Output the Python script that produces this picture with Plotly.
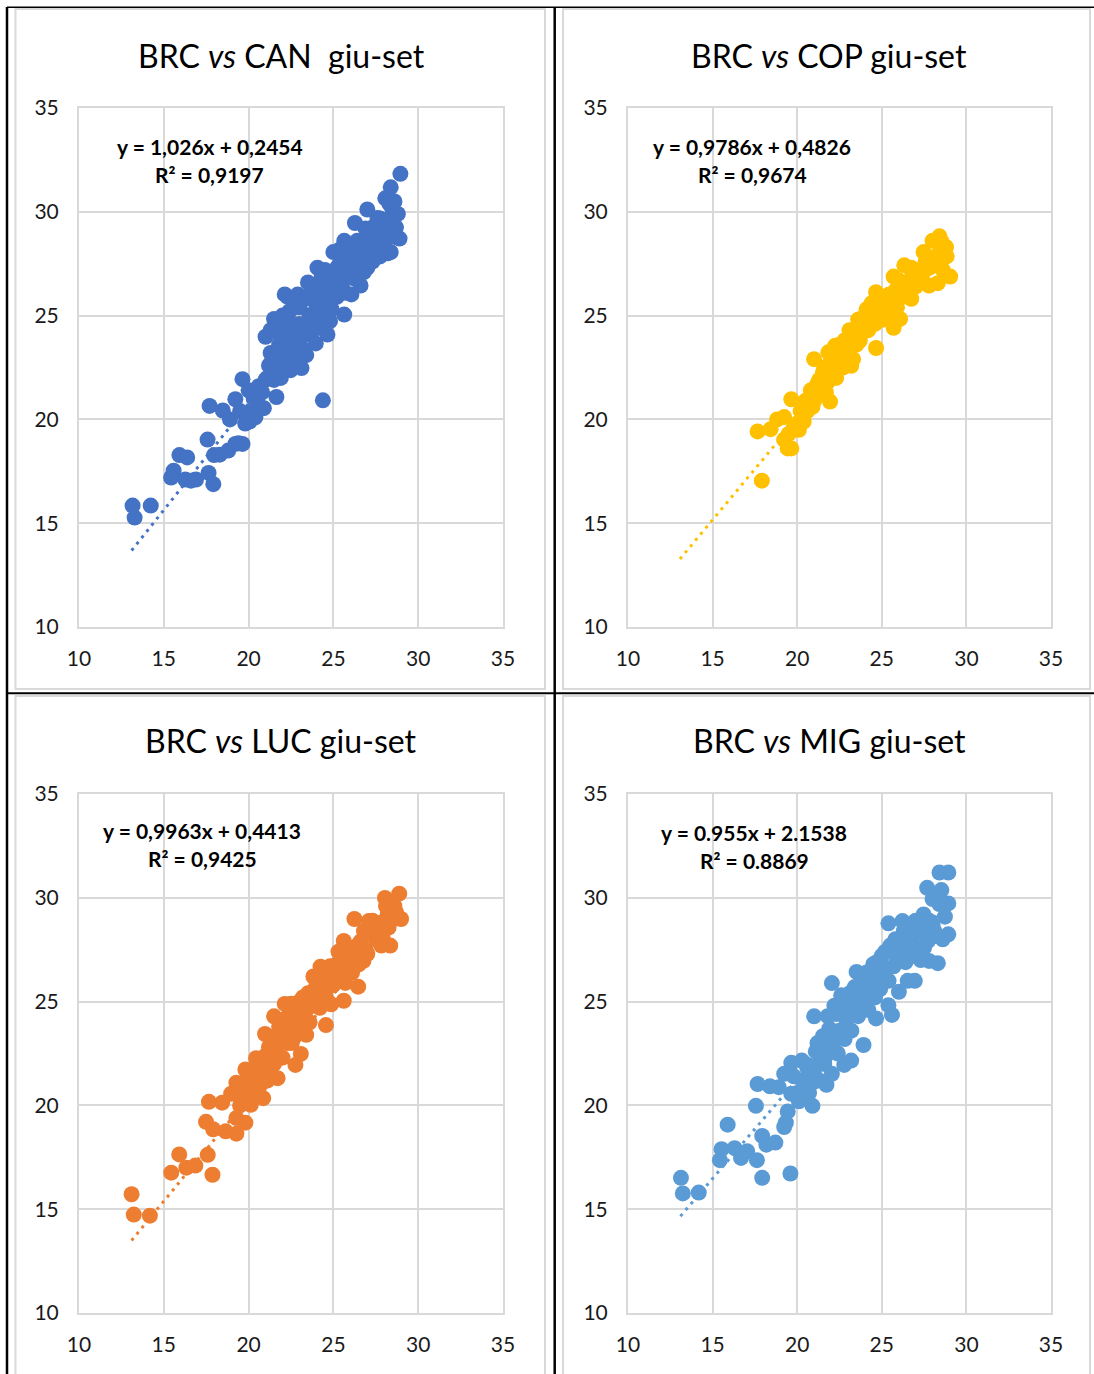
import plotly.graph_objects as go

# ---------------- data ----------------
titles = ["BRC <i>vs</i> CAN\u00a0 giu-set", "BRC <i>vs</i> COP giu-set",
          "BRC <i>vs</i> LUC giu-set", "BRC <i>vs</i> MIG giu-set"]
equations = ["y = 1,026x + 0,2454", "y = 0,9786x + 0,4826",
             "y = 0,9963x + 0,4413", "y = 0.955x + 2.1538"]
r2_texts = ["R² = 0,9197", "R² = 0,9674", "R² = 0,9425", "R² = 0.8869"]
slopes = [1.026, 0.9786, 0.9963, 0.955]
intercepts = [0.2454, 0.4826, 0.4413, 2.1538]
trend_x_start = [13.1, 13.07, 13.1, 13.1]
trend_x_end = [29.0, 29.0, 29.0, 29.0]

can_x = [13.16, 13.28, 14.23, 15.43, 15.58, 15.92, 16.38, 16.27, 16.6, 16.9, 17.64, 17.92, 17.58, 17.7,
         17.96, 18.3, 18.48, 18.8, 19.22, 19.64, 19.4, 19.22, 19.64, 18.9, 19.5, 19.8, 20.06, 20.17,
         20.4, 20.6, 20.9, 20.3, 20.0, 20.6, 21.0, 21.64, 24.38,
         21.0, 21.5, 21.2, 21.3, 21.6, 21.8, 21.9, 22.0, 22.13, 22.2, 22.4, 22.5, 22.48, 22.7, 22.8,
         22.9, 23.0, 23.12, 23.2, 23.3, 23.5, 23.6, 23.8, 23.96, 24.0, 24.06, 24.2, 24.4, 24.5, 24.65,
         24.8, 24.8,
         25.0, 25.0, 25.2, 25.3, 25.5, 25.64, 25.64, 25.8, 26.0, 26.06, 26.2, 26.3, 26.27, 26.6, 26.7,
         26.8, 27.0, 27.0, 27.2, 27.4, 27.5, 27.75, 27.75, 27.9, 28.06, 28.06, 28.2, 28.38, 28.38,
         28.48, 28.5, 28.69, 28.9, 28.95, 28.6,
         20.8, 21.1, 21.4, 21.5, 21.7, 21.9, 22.1, 22.3, 22.6, 22.6, 22.9, 23.0, 23.1, 23.3, 23.4,
         23.6, 23.7, 23.9, 24.1, 24.2, 24.3, 24.4, 24.6, 24.7, 24.9, 25.1, 25.2, 25.4, 25.5, 25.7,
         25.9, 26.0, 26.2, 26.4, 26.5, 26.8, 26.9, 27.1, 27.3, 27.6, 27.7, 28.0, 28.2, 28.3, 28.6,
         28.8, 22.0, 22.3, 23.5, 21.3]
can_y = [15.85, 15.27, 15.85, 17.2, 17.53, 18.28, 18.17, 17.1, 17.05, 17.1, 17.42, 16.88, 19.03, 20.65,
         18.28, 18.3, 20.43, 18.5, 18.82, 18.82, 18.85, 20.97, 21.94, 20.0, 20.4, 19.8, 19.9, 20.32,
         20.1, 20.7, 20.54, 21.0, 21.4, 21.6, 21.9, 21.08, 20.92,
         23.98, 24.84, 22.6, 23.2, 22.3, 23.6, 22.0, 24.3, 26.02, 23.0, 25.2, 24.0, 22.37, 23.4, 25.5,
         26.02, 24.6, 22.47, 23.4, 25.8, 24.1, 25.0, 26.2, 23.66, 25.4, 27.31, 26.6, 24.9, 27.2, 24.09,
         24.73, 26.0,
         28.06, 26.8, 25.9, 27.4, 26.4, 25.05, 28.6, 27.8, 26.9, 26.02, 28.1, 27.3, 29.46, 26.45, 27.8,
         28.5, 27.31, 30.11, 28.7, 29.3, 28.2, 29.68, 27.85, 29.0, 30.65, 29.03, 28.0, 31.18, 28.06,
         30.11, 29.6, 29.25, 28.71, 31.83, 30.5,
         21.3, 22.0, 22.9, 21.9, 23.0, 24.0, 22.7, 23.6, 24.6, 23.0, 24.0, 25.4, 23.2, 24.4, 23.1,
         26.0, 24.3, 25.0, 24.4, 25.8, 27.0, 26.2, 25.5, 26.8, 25.3, 27.2, 26.3, 28.2, 27.0, 26.1,
         28.3, 27.4, 26.8, 28.6, 27.6, 27.1, 29.2, 28.0, 27.6, 29.7, 28.6, 28.3, 29.6, 30.4, 28.8,
         29.9, 25.0, 25.9, 26.6, 24.3]

cop_x = [17.66, 17.91, 18.43, 18.81, 19.23, 19.65, 19.23, 19.44, 19.65, 20.38, 21.0, 21.94, 21.2, 20.69,
         21.52, 22.25, 21.84, 23.19, 23.09, 23.72, 24.66, 24.24, 24.66, 25.7, 26.08, 25.7, 26.33, 26.74,
         26.74, 25.91, 27.47, 28.0, 28.41, 28.83, 29.04, 28.31, 27.79, 27.68, 27.27,
         20.2, 20.5, 20.8, 21.0, 21.3, 21.6, 21.8, 22.0, 22.2, 22.4, 22.6, 22.8, 23.0, 23.2, 23.5, 23.8,
         24.0, 24.2, 24.5, 24.8, 25.0, 25.2, 25.5, 25.8, 26.2, 26.5, 26.9, 27.2, 27.6, 28.0, 28.4, 28.6,
         20.0, 20.3, 20.6, 20.9, 21.1, 21.4, 21.5, 21.7, 21.9, 22.1, 22.3, 22.5, 22.7, 22.9, 23.1, 23.3,
         23.4, 23.6, 23.7, 23.9, 24.1, 24.3, 24.4, 24.6, 24.7, 24.9, 25.1, 25.3, 25.4, 25.6, 25.9, 26.0,
         26.3, 26.6, 26.8, 27.0, 27.4, 27.8, 28.2, 28.6, 28.8, 19.5, 19.8, 20.1]
cop_y = [19.42, 17.05, 19.53, 20.0, 20.11, 20.97, 19.03, 18.6, 18.6, 19.89, 22.9, 20.86, 21.72, 20.54,
         22.26, 23.55, 23.23, 22.58, 24.3, 24.84, 23.44, 25.38, 26.13, 24.41, 24.84, 26.88, 27.42, 27.31,
         25.81, 26.02, 28.06, 28.6, 28.82, 27.85, 26.88, 26.56, 26.45, 27.31, 26.88,
         20.4, 20.9, 21.4, 20.9, 21.9, 22.5, 21.8, 22.9, 22.3, 23.4, 22.9, 23.8, 23.2, 24.0, 23.6, 24.4,
         24.9, 24.3, 25.1, 25.5, 24.8, 25.8, 25.3, 26.2, 25.9, 26.5, 26.7, 27.2, 27.6, 27.8, 28.0, 28.4,
         19.8, 20.0, 20.4, 20.6, 21.1, 21.4, 22.0, 21.3, 22.2, 23.0, 22.0, 23.6, 22.5, 23.3, 23.7, 22.9,
         24.0, 24.8, 23.8, 24.2, 25.3, 24.7, 25.6, 24.6, 25.9, 25.1, 25.5, 24.9, 26.0, 25.6, 25.4, 26.7,
         26.2, 25.9, 27.0, 26.4, 27.0, 27.3, 27.5, 27.2, 28.3, 19.3, 19.6, 19.5]

luc_x = [13.1, 13.23, 14.18, 15.44, 15.91, 16.33, 16.86, 17.59, 17.87, 17.66, 17.49, 17.91, 18.44, 18.65,
         19.28, 19.28, 18.97, 19.28, 19.81, 20.02, 20.86, 20.13, 19.81, 21.71, 20.44, 20.97, 21.5, 22.13,
         22.76, 23.08, 22.55, 24.56, 23.82, 24.24, 24.87, 25.61, 25.61, 26.46, 26.77, 26.24, 27.09, 28.04,
         28.88, 28.99, 28.35, 27.83, 28.25,
         20.5, 20.8, 21.0, 21.2, 21.4, 21.6, 21.8, 22.0, 22.2, 22.4, 22.6, 22.8, 23.0, 23.2, 23.4, 23.5,
         23.7, 23.9, 24.1, 24.3, 24.5, 24.7, 25.0, 25.2, 25.4, 25.6, 25.8, 26.0, 26.3, 26.6, 26.9, 27.2,
         27.5, 27.8, 28.2, 28.6,
         19.5, 19.7, 20.0, 20.2, 20.4, 20.7, 21.0, 21.1, 21.3, 21.5, 21.7, 21.9, 22.0, 22.3, 22.5, 22.7,
         22.9, 23.1, 23.2, 23.4, 23.6, 23.8, 24.0, 24.2, 24.4, 24.6, 24.8, 24.9, 25.1, 25.3, 25.5, 25.7,
         25.9, 26.1, 26.4, 26.5, 26.8, 27.0, 27.3, 27.6, 27.9, 28.1, 28.4, 28.7]
luc_y = [15.72, 14.74, 14.69, 16.76, 17.64, 17.0, 17.1, 17.62, 16.66, 20.17, 19.21, 18.85, 20.13, 18.75,
         18.64, 19.39, 20.56, 21.09, 21.73, 20.88, 20.35, 20.03, 19.17, 21.31, 22.27, 23.44, 24.29, 24.89,
         21.95, 22.48, 23.01, 23.87, 26.21, 26.68, 24.87, 25.04, 27.92, 25.72, 26.96, 28.98, 28.88, 29.99,
         30.2, 28.98, 27.7, 27.7, 28.56,
         21.3, 22.0, 21.6, 22.8, 23.3, 22.6, 23.8, 23.2, 24.2, 23.6, 24.6, 24.0, 25.0, 24.4, 23.4, 25.4,
         24.8, 25.6, 25.0, 26.0, 25.4, 26.3, 25.8, 26.8, 26.2, 27.1, 26.6, 27.5, 27.0, 27.9, 27.5, 28.4,
         28.0, 28.8, 29.2, 29.6,
         20.0, 20.6, 21.5, 20.6, 21.8, 21.0, 22.4, 21.2, 23.0, 22.0, 22.9, 24.1, 22.3, 23.0, 24.9, 23.3,
         24.4, 23.8, 25.2, 24.6, 24.0, 25.2, 26.0, 24.7, 26.4, 25.1, 26.7, 25.9, 26.3, 27.4, 26.5, 25.9,
         27.3, 26.4, 27.7, 26.8, 28.4, 27.3, 28.9, 28.3, 28.1, 29.6, 28.9, 29.3]

mig_x = [13.13, 13.24, 14.18, 15.43, 15.53, 15.89, 16.3, 16.68, 17.04, 17.62, 17.93, 17.93, 18.18, 18.71,
         17.56, 17.66, 18.39, 18.91, 19.23, 19.33, 19.6, 19.44, 19.23, 19.65, 19.65, 20.27, 20.9, 21.73,
         22.05, 21.0, 21.52, 22.05, 22.78, 23.19, 23.92, 23.51, 24.66, 25.6, 25.39, 26.01, 25.39, 26.22,
         26.95, 26.53, 27.47, 27.68, 28.41, 28.93, 28.52, 28.0, 28.93, 28.73, 28.93, 28.31, 27.79, 28.0,
         26.95,
         20.0, 20.3, 20.6, 20.9, 21.1, 21.3, 21.5, 21.7, 21.9, 22.1, 22.3, 22.5, 22.7, 22.9, 23.1, 23.3,
         23.5, 23.7, 23.9, 24.1, 24.3, 24.5, 24.8, 25.0, 25.3, 25.6, 25.9, 26.2, 26.5, 26.8, 27.1, 27.4,
         27.7, 28.0,
         19.8, 20.1, 20.4, 20.5, 20.7, 20.8, 21.0, 21.2, 21.3, 21.6, 21.8, 22.0, 22.2, 22.4, 22.6, 22.8,
         23.0, 23.2, 23.4, 23.6, 23.8, 24.0, 24.2, 24.4, 24.6, 24.7, 24.9, 25.1, 25.2, 25.4, 25.5, 25.7,
         25.8, 26.0, 26.3, 26.4, 26.6, 26.9, 27.2, 27.5, 27.8, 28.1, 28.4, 28.6, 27.0, 27.3]
mig_y = [16.51, 15.76, 15.8, 17.36, 17.89, 19.07, 17.94, 17.47, 17.79, 17.36, 16.51, 18.53, 18.11, 18.21,
         19.98, 21.03, 20.92, 20.88, 18.96, 19.17, 16.72, 19.71, 21.52, 22.05, 20.56, 22.16, 19.98, 20.99,
         21.52, 24.29, 23.33, 25.89, 21.95, 22.16, 22.91, 26.43, 24.19, 24.36, 24.83, 25.47, 28.77, 28.88,
         26.0, 26.0, 29.2, 30.48, 31.22, 31.22, 30.37, 29.94, 29.73, 29.09, 28.24, 26.85, 26.96, 28.13,
         28.56,
         20.6, 21.2, 21.8, 21.1, 22.6, 22.0, 23.1, 22.4, 23.7, 23.0, 24.4, 23.6, 24.9, 24.1, 25.4, 24.6,
         25.0, 25.8, 25.2, 26.4, 25.6, 26.8, 26.1, 27.2, 26.6, 27.5, 27.0, 27.8, 27.3, 28.1, 27.6, 28.4,
         27.9, 28.7,
         21.4, 20.2, 20.9, 22.0, 20.6, 21.9, 21.5, 23.0, 21.2, 22.0, 24.3, 22.7, 24.8, 22.5, 25.3, 23.2,
         24.6, 23.6, 25.7, 24.3, 24.9, 25.9, 24.6, 26.4, 25.2, 26.9, 25.6, 26.5, 27.4, 26.0, 27.7, 26.7,
         28.0, 27.3, 28.4, 26.9, 28.7, 27.2, 28.7, 27.6, 28.9, 28.4, 29.7, 28.0, 28.9, 27.0]

series_x = [can_x, cop_x, luc_x, mig_x]
series_y = [can_y, cop_y, luc_y, mig_y]
axis_min, axis_max, axis_step = 10, 35, 5

# ---------------- styling / layout ----------------
W, H = 1094, 1374
colors = ["#4472C4", "#FFC000", "#ED7D31", "#5B9BD5"]
plot_boxes = [(79, 503, 108, 627), (628, 1051, 108, 627),
              (79, 503, 794, 1313), (628, 1051, 794, 1313)]
title_pos = [(281, 55), (829, 55), (281, 740), (829, 740)]
eq_pos = [(210, 147), (752, 147), (202, 830), (754, 832)]
r2_pos = [(209, 175), (752, 175), (202, 858), (754, 860)]

def px(x):
    return x / W

def py(y):
    return 1 - y / H

FONT = "Lato, Carlito, Calibri, sans-serif"
fig = go.Figure()
layout = dict(width=W, height=H,
              margin=dict(l=0, r=0, t=0, b=0, pad=0, autoexpand=False),
              paper_bgcolor="white", plot_bgcolor="white", showlegend=False,
              font=dict(family=FONT, color="#1a1a1a"))
annotations = []

for i in range(4):
    n = i + 1
    xa = "x" if n == 1 else f"x{n}"
    ya = "y" if n == 1 else f"y{n}"
    xs, ys = series_x[i], series_y[i]
    tx = [trend_x_start[i], trend_x_end[i]]
    ty = [slopes[i] * v + intercepts[i] for v in tx]
    fig.add_trace(go.Scatter(x=tx, y=ty, mode="lines", xaxis=xa, yaxis=ya,
                             line=dict(color=colors[i], width=3, dash="3px,5px"),
                             hoverinfo="skip"))
    fig.add_trace(go.Scatter(x=xs, y=ys, mode="markers", xaxis=xa, yaxis=ya,
                             marker=dict(color=colors[i], size=16, line=dict(width=0))))
    x0, x1, y0, y1 = plot_boxes[i]
    common = dict(range=[axis_min, axis_max], tick0=axis_min, dtick=axis_step,
                  showgrid=True, gridcolor="#d9d9d9", gridwidth=2,
                  showline=True, linecolor="#d9d9d9", linewidth=2, mirror=True,
                  zeroline=False, ticks="", fixedrange=True, automargin=False,
                  tickfont=dict(family=FONT, size=21, color="#1a1a1a"))
    layout["xaxis" if n == 1 else f"xaxis{n}"] = dict(
        domain=[px(x0), px(x1)], anchor=ya, ticklabelstandoff=12, **common)
    layout["yaxis" if n == 1 else f"yaxis{n}"] = dict(
        domain=[py(y1), py(y0)], anchor=xa, ticklabelstandoff=14, **common)

    tx_, ty_ = title_pos[i]
    annotations.append(dict(text=titles[i], x=px(tx_), y=py(ty_), xref="paper", yref="paper",
                            xanchor="center", yanchor="middle", showarrow=False,
                            font=dict(family=FONT, size=32, color="#000000")))
    ex, ey = eq_pos[i]
    annotations.append(dict(text="<b>" + equations[i] + "</b>", x=px(ex), y=py(ey),
                            xref="paper", yref="paper", xanchor="center", yanchor="middle",
                            showarrow=False, font=dict(family=FONT, size=21, color="#000000")))
    rx, ry = r2_pos[i]
    annotations.append(dict(text="<b>" + r2_texts[i] + "</b>", x=px(rx), y=py(ry),
                            xref="paper", yref="paper", xanchor="center", yanchor="middle",
                            showarrow=False, font=dict(family=FONT, size=21, color="#000000")))

shapes = []
# light grey chart-area frames
for (a, b, c, d) in [(15.5, 545, 9, 689), (563, 1090, 9, 689),
                     (15.5, 545, 696, 1376), (563, 1090, 696, 1376)]:
    shapes.append(dict(type="rect", xref="paper", yref="paper",
                       x0=px(a), x1=px(b), y0=py(d), y1=py(c),
                       line=dict(color="#d9d9d9", width=2), fillcolor="rgba(0,0,0,0)"))
# black table borders
for (a, b, c, d, w) in [(7, 7, 7, 1374, 2.5), (7, 1094, 7.3, 7.3, 1.6),
                        (554.7, 554.7, 7, 1374, 2.5), (7, 1094, 693.3, 693.3, 2)]:
    shapes.append(dict(type="line", xref="paper", yref="paper",
                       x0=px(a), x1=px(b), y0=py(c), y1=py(d),
                       line=dict(color="#000000", width=w)))

layout["annotations"] = annotations
layout["shapes"] = shapes
fig.update_layout(**layout)
fig.write_html("out.html")
